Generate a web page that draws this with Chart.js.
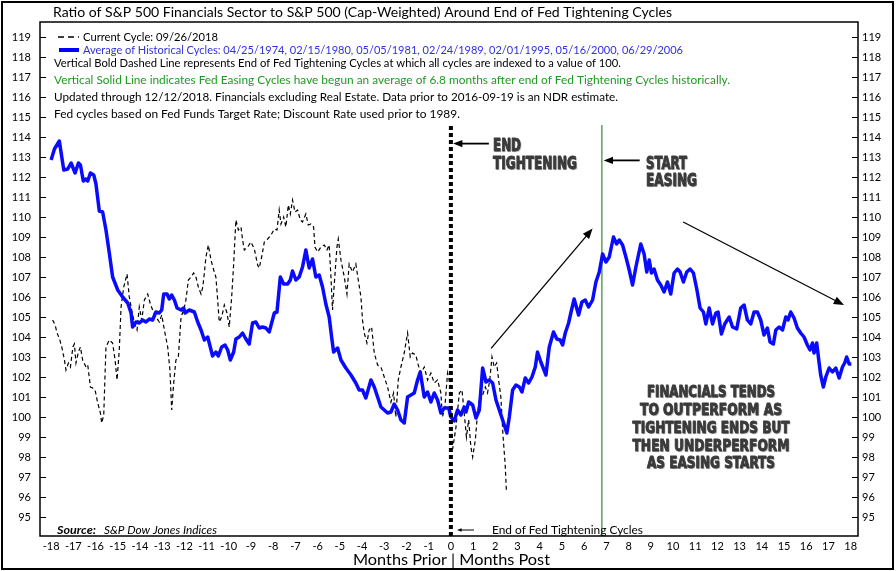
<!DOCTYPE html>
<html>
<head>
<meta charset="utf-8">
<script src="https://cdn.jsdelivr.net/npm/chart.js@4.4.1/dist/chart.umd.min.js"></script>
<style>
  html, body { margin: 0; padding: 0; background: #fff; }
  #wrap { width: 896px; height: 571px; }
</style>
</head>
<body>
<div id="wrap"><canvas id="myChart" width="896" height="571"></canvas></div>
<script>
// average of historical cycles (blue)
const avgMonths = [-18.0, -17.85, -17.63, -17.43, -17.25, -17.1, -16.92, -16.77, -16.68, -16.55, -16.43, -16.35, -16.23, -16.08, -15.98, -15.83, -15.68, -15.53, -15.38, -15.23, -15.0, -14.78, -14.55, -14.4, -14.33, -14.18, -14.03, -13.88, -13.73, -13.58, -13.43, -13.28, -13.13, -13.02, -12.93, -12.78, -12.68, -12.57, -12.45, -12.33, -12.15, -12.03, -11.97, -11.78, -11.55, -11.4, -11.25, -11.1, -10.95, -10.88, -10.73, -10.58, -10.47, -10.32, -10.17, -10.05, -9.93, -9.78, -9.68, -9.53, -9.38, -9.23, -9.08, -8.93, -8.78, -8.63, -8.48, -8.33, -8.18, -7.95, -7.83, -7.68, -7.53, -7.35, -7.23, -7.13, -6.98, -6.83, -6.68, -6.53, -6.38, -6.23, -6.08, -5.93, -5.78, -5.63, -5.48, -5.37, -5.28, -5.1, -4.95, -4.73, -4.5, -4.28, -4.13, -3.98, -3.83, -3.6, -3.45, -3.3, -3.15, -3.0, -2.85, -2.7, -2.55, -2.4, -2.25, -2.1, -1.95, -1.8, -1.65, -1.5, -1.38, -1.2, -1.05, -0.9, -0.75, -0.6, -0.45, -0.3, -0.1, 0, 0.15, 0.3, 0.45, 0.6, 0.68, 0.8, 0.98, 1.13, 1.28, 1.43, 1.58, 1.73, 1.88, 2.03, 2.18, 2.33, 2.52, 2.63, 2.78, 2.93, 3.08, 3.2, 3.35, 3.5, 3.65, 3.8, 3.9, 4.05, 4.28, 4.43, 4.62, 4.77, 4.92, 5.03, 5.15, 5.3, 5.4, 5.55, 5.75, 5.9, 6.05, 6.2, 6.38, 6.53, 6.68, 6.83, 6.98, 7.13, 7.32, 7.46, 7.58, 7.73, 7.88, 8.03, 8.18, 8.33, 8.55, 8.7, 8.82, 8.93, 9.03, 9.15, 9.3, 9.45, 9.6, 9.75, 9.9, 10.05, 10.2, 10.32, 10.47, 10.62, 10.77, 10.92, 11.07, 11.22, 11.37, 11.48, 11.63, 11.78, 11.93, 12.03, 12.18, 12.33, 12.53, 12.68, 12.87, 13.05, 13.2, 13.35, 13.5, 13.65, 13.8, 13.95, 14.1, 14.25, 14.37, 14.52, 14.63, 14.78, 14.93, 15.08, 15.18, 15.3, 15.45, 15.6, 15.75, 15.9, 16.05, 16.17, 16.28, 16.35, 16.47, 16.58, 16.65, 16.77, 16.88, 17.03, 17.18, 17.33, 17.48, 17.63, 17.73, 17.82, 17.93, 18.03];
const avgValues = [112.85, 113.4, 113.8, 112.35, 112.4, 112.7, 112.2, 112.7, 112.6, 111.8, 111.9, 111.8, 112.2, 112.1, 111.65, 110.3, 110.25, 109.35, 108.2, 107.0, 106.35, 106.0, 105.7, 105.2, 104.5, 104.75, 104.7, 104.85, 104.75, 104.9, 104.85, 105.25, 105.2, 105.35, 106.15, 106.15, 105.9, 106.1, 105.85, 105.45, 105.35, 105.45, 105.2, 105.35, 105.25, 104.75, 104.35, 103.85, 104.0, 103.7, 103.05, 103.25, 103.05, 103.5, 103.6, 103.35, 102.85, 103.25, 103.9, 104.0, 104.2, 103.9, 103.65, 104.7, 104.75, 104.45, 104.5, 104.45, 104.25, 105.2, 105.25, 107.0, 106.65, 106.65, 106.85, 107.3, 106.85, 107.0, 107.5, 108.35, 107.45, 107.9, 107.0, 107.1, 106.5, 105.65, 105.0, 104.0, 103.25, 103.45, 102.85, 102.45, 102.1, 101.7, 101.35, 101.35, 100.95, 101.85, 101.5, 101.0, 100.5, 100.35, 100.2, 100.25, 100.65, 100.35, 99.85, 99.7, 101.0, 101.1, 101.2, 101.85, 102.25, 101.0, 101.25, 100.75, 101.2, 100.85, 100.2, 100.45, 100.45, 100.0, 99.8, 100.35, 100.1, 100.5, 100.25, 100.75, 100.6, 99.95, 100.35, 102.45, 101.75, 101.85, 101.7, 100.85, 100.35, 99.85, 99.2, 100.0, 101.35, 101.6, 101.5, 101.25, 101.95, 101.7, 102.0, 102.5, 103.25, 102.75, 102.1, 103.5, 104.25, 103.9, 103.85, 103.6, 104.2, 104.7, 105.2, 105.9, 105.1, 105.75, 105.85, 105.5, 105.85, 106.75, 107.25, 108.15, 107.75, 108.0, 109.0, 108.65, 108.85, 108.6, 108.0, 107.35, 106.6, 107.5, 108.65, 108.15, 107.25, 107.85, 107.2, 107.4, 106.85, 106.6, 106.25, 106.75, 106.15, 107.2, 107.4, 107.25, 106.75, 107.25, 107.4, 107.2, 106.4, 105.45, 105.25, 104.65, 105.45, 104.65, 105.2, 105.25, 104.15, 104.65, 105.0, 104.5, 104.4, 105.45, 105.6, 104.85, 104.65, 105.25, 105.25, 104.85, 104.1, 104.45, 103.75, 103.65, 104.35, 104.5, 104.35, 105.0, 104.85, 105.25, 104.95, 104.45, 104.2, 104.0, 103.6, 103.35, 103.7, 103.2, 103.7, 102.7, 102.1, 101.5, 102.0, 102.45, 102.25, 102.45, 101.95, 102.5, 102.7, 103.0, 102.65, 102.65];

// current cycle 09/26/2018 (black dashed)
const curMonths = [-17.93, -17.82, -17.73, -17.62, -17.52, -17.4, -17.33, -17.22, -17.13, -17.02, -16.95, -16.88, -16.77, -16.68, -16.58, -16.43, -16.35, -16.23, -16.13, -16.02, -15.9, -15.78, -15.72, -15.63, -15.53, -15.38, -15.23, -15.12, -15.03, -14.93, -14.85, -14.73, -14.58, -14.48, -14.37, -14.25, -14.13, -14.03, -13.92, -13.8, -13.65, -13.53, -13.43, -13.28, -13.13, -13.02, -12.9, -12.75, -12.65, -12.57, -12.48, -12.38, -12.27, -12.15, -12.03, -11.93, -11.82, -11.7, -11.58, -11.48, -11.37, -11.25, -11.17, -11.1, -11.03, -10.92, -10.8, -10.68, -10.58, -10.5, -10.43, -10.32, -10.2, -10.08, -9.98, -9.87, -9.78, -9.68, -9.57, -9.45, -9.38, -9.3, -9.15, -9.0, -8.85, -8.7, -8.63, -8.52, -8.4, -8.25, -8.1, -7.95, -7.83, -7.73, -7.65, -7.53, -7.43, -7.32, -7.23, -7.13, -7.02, -6.9, -6.78, -6.68, -6.53, -6.42, -6.3, -6.18, -6.12, -6.0, -5.85, -5.7, -5.58, -5.48, -5.4, -5.33, -5.25, -5.13, -5.07, -4.95, -4.8, -4.68, -4.58, -4.43, -4.28, -4.17, -4.05, -3.98, -3.9, -3.78, -3.68, -3.57, -3.45, -3.3, -3.15, -3.0, -2.85, -2.7, -2.58, -2.48, -2.37, -2.25, -2.1, -1.95, -1.83, -1.73, -1.58, -1.47, -1.35, -1.2, -1.05, -0.9, -0.75, -0.6, -0.45, -0.38, -0.27, -0.15, -0.05, 0.08, 0.23, 0.38, 0.5, 0.6, 0.7, 0.8, 0.9, 0.98, 1.1, 1.2, 1.32, 1.43, 1.55, 1.65, 1.75, 1.85, 1.95, 2.06, 2.15, 2.25, 2.35, 2.44, 2.5];
const curValues = [104.85, 104.6, 104.2, 103.9, 103.5, 102.85, 102.35, 102.7, 102.5, 103.5, 103.65, 102.7, 103.25, 103.5, 102.85, 102.5, 102.6, 101.5, 101.45, 101.35, 100.7, 100.2, 99.7, 100.1, 103.5, 103.85, 103.7, 102.85, 101.85, 103.35, 105.5, 106.5, 107.15, 106.0, 105.35, 104.7, 104.35, 105.5, 104.85, 105.85, 106.15, 105.65, 105.35, 105.0, 104.75, 105.1, 104.35, 103.5, 102.35, 100.35, 101.7, 102.85, 103.0, 105.0, 105.35, 105.85, 106.85, 107.0, 107.2, 107.0, 106.5, 106.15, 106.5, 107.2, 108.0, 108.6, 107.85, 107.35, 107.0, 105.85, 104.75, 105.0, 105.6, 105.2, 104.5, 106.0, 107.65, 109.85, 109.35, 109.5, 108.85, 108.35, 108.5, 108.75, 108.4, 107.6, 107.45, 108.0, 108.75, 108.9, 109.1, 109.4, 109.35, 110.35, 109.65, 110.0, 109.5, 110.6, 110.15, 110.85, 110.25, 110.35, 109.85, 109.75, 110.15, 109.6, 109.65, 109.5, 108.5, 108.25, 108.5, 108.6, 108.35, 108.6, 107.0, 105.35, 106.65, 108.5, 108.9, 107.85, 107.0, 106.15, 107.65, 107.25, 107.65, 106.85, 106.0, 104.85, 104.2, 103.7, 104.35, 104.5, 103.2, 102.6, 102.5, 102.0, 101.5, 100.75, 101.2, 100.0, 101.85, 102.5, 103.2, 104.2, 103.0, 103.2, 103.1, 102.6, 102.2, 102.5, 101.85, 102.2, 101.7, 101.85, 101.2, 100.0, 100.5, 102.2, 101.7, 98.4, 99.5, 101.2, 101.35, 100.2, 99.0, 99.85, 98.5, 98.0, 98.85, 100.2, 101.2, 101.1, 101.5, 101.2, 101.85, 103.0, 102.5, 102.7, 101.85, 101.0, 99.0, 97.7, 96.3];

const xTicks = [-18, -17, -16, -15, -14, -13, -12, -11, -10, -9, -8, -7, -6, -5, -4, -3, -2, -1, 0, 1, 2, 3, 4, 5, 6, 7, 8, 9, 10, 11, 12, 13, 14, 15, 16, 17, 18];
const yTicks = [95, 96, 97, 98, 99, 100, 101, 102, 103, 104, 105, 106, 107, 108, 109, 110, 111, 112, 113, 114, 115, 116, 117, 118, 119];

const tightEndMonth = 0;
const easingStartMonth = 6.8;
const markerLineRange = [94.05, 114.6];

const Y_MIN = 94.05, Y_MAX = 119.75;
const BASE = "Lato, 'Open Sans', sans-serif";
const BOLDC = "'Liberation Sans Narrow', 'DejaVu Sans Condensed', 'DejaVu Sans', sans-serif";

// draw text squeezed/stretched to a given width
function fitText(ctx, text, x, y, width, align, heavy) {
  const w = ctx.measureText(text).width;
  const sx = width / w;
  let x0 = x;
  if (align === 'center') x0 = x - width / 2;
  ctx.save();
  ctx.textAlign = 'left';
  ctx.translate(x0, y);
  ctx.scale(sx, 1);
  ctx.fillText(text, 0, 0);
  if (heavy) {
    ctx.shadowColor = 'transparent';
    ctx.strokeStyle = ctx.fillStyle;
    ctx.lineWidth = heavy;
    ctx.lineJoin = 'round';
    ctx.strokeText(text, 0, 0);
  }
  ctx.restore();
}

function arrow(ctx, x1, y1, x2, y2, head, w) {
  const a = Math.atan2(y2 - y1, x2 - x1);
  ctx.save();
  ctx.strokeStyle = '#000';
  ctx.fillStyle = '#000';
  ctx.lineWidth = w;
  ctx.beginPath();
  ctx.moveTo(x1, y1);
  ctx.lineTo(x2 - Math.cos(a) * head * 0.8, y2 - Math.sin(a) * head * 0.8);
  ctx.stroke();
  ctx.beginPath();
  ctx.moveTo(x2, y2);
  ctx.lineTo(x2 - head * Math.cos(a - 0.38), y2 - head * Math.sin(a - 0.38));
  ctx.lineTo(x2 - head * Math.cos(a + 0.38), y2 - head * Math.sin(a + 0.38));
  ctx.closePath();
  ctx.fill();
  ctx.restore();
}

const decor = {
  id: 'decor',
  afterDraw(chart) {
    const ctx = chart.ctx;
    const a = chart.chartArea;
    const xs = chart.scales.x, ys = chart.scales.y;
    const px = v => xs.getPixelForValue(v);
    const py = v => ys.getPixelForValue(v);
    ctx.save();

    // frames
    ctx.strokeStyle = '#000';
    ctx.lineWidth = 1.5;
    ctx.strokeRect(a.left, a.top, a.right - a.left, a.bottom - a.top);
    ctx.lineWidth = 2;
    ctx.strokeRect(2, 2, 891, 567);

    // inside tick marks
    ctx.lineWidth = 1;
    yTicks.forEach(v => {
      const y = Math.round(py(v)) + 0.5;
      ctx.beginPath();
      ctx.moveTo(a.left, y); ctx.lineTo(a.left + 6, y);
      ctx.moveTo(a.right - 6, y); ctx.lineTo(a.right, y);
      ctx.stroke();
    });

    // title
    ctx.fillStyle = '#000';
    ctx.textBaseline = 'middle';
    ctx.textAlign = 'left';
    ctx.font = '14px ' + BASE;
    fitText(ctx, 'Ratio of S&P 500 Financials Sector to S&P 500 (Cap-Weighted) Around End of Fed Tightening Cycles', 53, 12, 619);

    // legend + notes
    ctx.font = '11px ' + BASE;
    ctx.save();
    ctx.lineWidth = 1.3;
    ctx.setLineDash([6, 4]);
    ctx.beginPath(); ctx.moveTo(58, 37); ctx.lineTo(79, 37); ctx.stroke();
    ctx.restore();
    fitText(ctx, 'Current Cycle: 09/26/2018', 83, 37, 135);
    ctx.save();
    ctx.strokeStyle = '#0000ff';
    ctx.lineWidth = 4;
    ctx.beginPath(); ctx.moveTo(59, 50); ctx.lineTo(79, 50); ctx.stroke();
    ctx.restore();
    ctx.fillStyle = '#3030e0';
    fitText(ctx, 'Average of Historical Cycles: 04/25/1974, 02/15/1980, 05/05/1981, 02/24/1989, 02/01/1995, 05/16/2000, 06/29/2006', 83, 50, 600);
    ctx.fillStyle = '#000';
    fitText(ctx, 'Vertical Bold Dashed Line represents End of Fed Tightening Cycles at which all cycles are indexed to a value of 100.', 54, 63, 567);
    ctx.fillStyle = '#229922';
    fitText(ctx, 'Vertical Solid Line indicates Fed Easing Cycles have begun an average of 6.8 months after end of Fed Tightening Cycles historically.', 54, 80, 676);
    ctx.fillStyle = '#000';
    fitText(ctx, 'Updated through 12/12/2018. Financials excluding Real Estate. Data prior to 2016-09-19 is an NDR estimate.', 54, 97, 564);
    fitText(ctx, 'Fed cycles based on Fed Funds Target Rate; Discount Rate used prior to 1989.', 54, 114, 406);

    // bottom notes
    ctx.font = 'italic bold 11px ' + BASE;
    fitText(ctx, 'Source:', 57, 530, 39);
    ctx.font = 'italic 11px ' + BASE;
    fitText(ctx, 'S&P Dow Jones Indices', 104, 530, 113);
    ctx.font = '11px ' + BASE;
    fitText(ctx, 'End of Fed Tightening Cycles', 492, 530, 151);
    arrow(ctx, 474, 530, 457, 530, 5, 1);

    // axis title
    ctx.font = '16px ' + BASE;
    fitText(ctx, 'Months Prior | Months Post', 451.5, 560, 197, 'center');

    // arrows
    arrow(ctx, px(1.71), py(113.67), px(0.1), py(113.67), 10, 1.8);
    arrow(ctx, px(8.5), py(112.83), px(6.88), py(112.83), 10, 1.8);
    arrow(ctx, px(1.81), py(103.43), px(6.38), py(109.42), 11, 1.3);
    arrow(ctx, px(10.46), py(109.75), px(17.7), py(105.6), 11, 1.3);

    // bold annotations
    ctx.fillStyle = '#3a3a3a';
    ctx.shadowColor = 'rgba(0,0,0,0.35)';
    ctx.shadowOffsetX = 1;
    ctx.shadowOffsetY = 1;
    ctx.shadowBlur = 1;
    ctx.font = 'bold 17px ' + BOLDC;
    fitText(ctx, 'END', 493, 147, 28, 'left', 0.9);
    fitText(ctx, 'TIGHTENING', 493, 165, 84, 'left', 0.9);
    fitText(ctx, 'START', 646, 165, 41, 'left', 0.9);
    fitText(ctx, 'EASING', 646, 182, 51, 'left', 0.9);
    ctx.font = 'bold 16px ' + BOLDC;
    const block = ['FINANCIALS TENDS', 'TO OUTPERFORM AS', 'TIGHTENING ENDS BUT', 'THEN UNDERPERFORM', 'AS EASING STARTS'];
    const blockW = [128, 142, 157, 157, 128];
    block.forEach((t, i) => fitText(ctx, t, 711, 393 + i * 17.8, blockW[i], 'center', 0.9));
    ctx.restore();
  }
};

const ctx = document.getElementById('myChart').getContext('2d');
const tickFont = { family: BASE, size: 11 };

new Chart(ctx, {
  type: 'line',
  data: {
    datasets: [
      {
        label: 'End of Fed Tightening',
        data: markerLineRange.map(v => ({ x: tightEndMonth, y: v })),
        borderColor: '#000',
        borderWidth: 4,
        borderDash: [4, 3],
        pointRadius: 0
      },
      {
        label: 'Average of Historical Cycles',
        data: avgMonths.map((m, i) => ({ x: m, y: avgValues[i] })),
        borderColor: '#0a0aff',
        borderWidth: 3.5,
        borderJoinStyle: 'round',
        pointRadius: 0,
        tension: 0
      },
      {
        label: 'Current Cycle',
        data: curMonths.map((m, i) => ({ x: m, y: curValues[i] })),
        borderColor: '#000',
        borderWidth: 1.2,
        borderDash: [4, 3],
        pointRadius: 0,
        tension: 0
      },
      {
        label: 'Start Easing',
        data: markerLineRange.map(v => ({ x: easingStartMonth, y: v })),
        borderColor: '#0f6f0f',
        borderWidth: 1,
        pointRadius: 0
      }
    ]
  },
  options: {
    responsive: false,
    animation: false,
    devicePixelRatio: 1,
    layout: { padding: { top: 22, left: 0, right: 0, bottom: 0 } },
    plugins: { legend: { display: false }, tooltip: { enabled: false } },
    scales: {
      x: {
        type: 'linear',
        min: -18.5,
        max: 18.33,
        grid: { display: false, drawTicks: false },
        border: { display: false },
        ticks: { font: tickFont, color: '#000', padding: 4, autoSkip: false, maxRotation: 0, callback: v => String(v) },
        afterBuildTicks: s => { s.ticks = xTicks.map(v => ({ value: v })); },
        afterFit: s => { s.height = 35; }
      },
      y: {
        position: 'left',
        min: Y_MIN,
        max: Y_MAX,
        grid: { display: false, drawTicks: false },
        border: { display: false },
        ticks: { font: tickFont, color: '#000', padding: 9, callback: v => String(v) },
        afterBuildTicks: s => { s.ticks = yTicks.map(v => ({ value: v })); },
        afterFit: s => { s.width = 40; }
      },
      y2: {
        position: 'right',
        min: Y_MIN,
        max: Y_MAX,
        grid: { display: false, drawTicks: false },
        border: { display: false },
        ticks: { font: tickFont, color: '#000', padding: 4, callback: v => String(v) },
        afterBuildTicks: s => { s.ticks = yTicks.map(v => ({ value: v })); },
        afterFit: s => { s.width = 38; }
      }
    }
  },
  plugins: [decor]
});
</script>
</body>
</html>
